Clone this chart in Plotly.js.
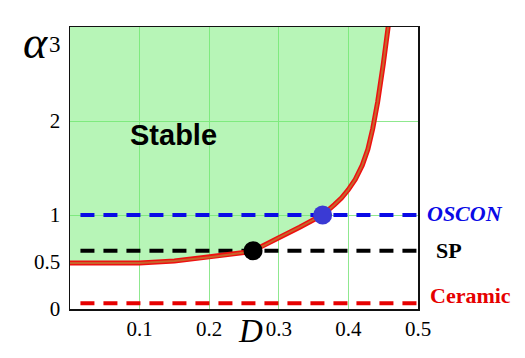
<!DOCTYPE html>
<html>
<head>
<meta charset="utf-8">
<script src="https://cdn.plot.ly/plotly-3.0.1.min.js"></script>
<style>html,body{margin:0;padding:0;background:#fff;}#chart{width:525px;height:358px;}</style>
</head>
<body>
<div id="chart"></div>
<script>
// Stability boundary
const boundaryD     = [0, 0.05, 0.1, 0.15, 0.2, 0.25, 0.263, 0.28, 0.3, 0.33, 0.35, 0.363, 0.38, 0.39, 0.4, 0.41, 0.42, 0.428, 0.435, 0.442, 0.45, 0.458];
const boundaryAlpha = [0.49, 0.49, 0.49, 0.51, 0.55, 0.6, 0.62, 0.68, 0.76, 0.87, 0.95, 1.0, 1.11, 1.18, 1.27, 1.38, 1.53, 1.7, 1.92, 2.2, 2.6, 3.05];

// Capacitor levels
const levelNames  = ['OSCON', 'SP', 'Ceramic'];
const levelAlpha  = [1.0, 0.62, 0.06];
const levelStartD = 0.015;
const levelEndD   = 0.5;

// Operating points on the boundary
const pointNames = ['OSCON', 'SP'];
const pointD     = [0.363, 0.263];
const pointAlpha = [1.0, 0.62];

// Axis ticks
const xTicks = [0.1, 0.2, 0.3, 0.4, 0.5];
const xTickText = ['0.1', '0.2', '0.3', '0.4', '0.5'];
const yTicks = [0, 0.5, 1, 2];
const yTickText = ['0', '0.5', '1', '2'];
const yGrid = [1, 2];

const levelColors = ['#0a0ae6', '#000000', '#e60000'];
const pointColors = ['#3a3ad4', '#000000'];

const traces = [];
traces.push({
  x: boundaryD, y: boundaryAlpha, type: 'scatter', mode: 'lines',
  fill: 'tozerox', fillcolor: 'rgba(112,236,112,0.5)', line: {width: 0, color: 'rgba(0,0,0,0)'},
  hoverinfo: 'skip', showlegend: false
});
levelNames.forEach((n, i) => {
  traces.push({
    x: [levelStartD, levelEndD], y: [levelAlpha[i], levelAlpha[i]], type: 'scatter', mode: 'lines',
    line: {color: levelColors[i], width: 4, dash: '14px,9px'}, showlegend: false, name: n
  });
});
traces.push({
  x: boundaryD, y: boundaryAlpha, type: 'scatter', mode: 'lines',
  line: {color: '#ee1010', width: 5}, showlegend: false
});
traces.push({
  x: boundaryD, y: boundaryAlpha, type: 'scatter', mode: 'lines',
  line: {color: '#c8642a', width: 2}, showlegend: false
});
traces.push({
  x: pointD, y: pointAlpha, type: 'scatter', mode: 'markers',
  marker: {size: 19, color: pointColors}, cliponaxis: false, showlegend: false
});
// invisible trace to activate grid axis
traces.push({x: [0], y: [0], yaxis: 'y2', mode: 'markers', marker: {opacity: 0}, hoverinfo: 'skip', showlegend: false});

const serif = '"Liberation Serif", "Times New Roman", serif';
const pw = 525 - 70 - 107, ph = 358 - 27 - 49;
function px(xp) { return (xp - 70) / pw; }
function py(yp) { return (358 - 49 - yp) / ph; }
function ann(text, xp, yp, font) {
  return {text: text, x: px(xp), y: py(yp), xref: 'paper', yref: 'paper', xanchor: 'center', yanchor: 'middle',
          showarrow: false, font: font};
}
const layout = {
  width: 525, height: 358,
  margin: {l: 70, r: 107, t: 27, b: 49},
  paper_bgcolor: '#ffffff', plot_bgcolor: '#ffffff',
  xaxis: {
    range: [0, 0.5], tickvals: xTicks, ticktext: xTickText, showgrid: true,
    gridcolor: '#8fe88f', gridwidth: 1, zeroline: false,
    showline: true, mirror: true, linecolor: '#111', linewidth: 1.5,
    ticks: '', tickfont: {family: serif, size: 21, color: '#000'}
  },
  yaxis: {
    range: [0, 3], tickvals: yTicks, ticktext: yTickText, showgrid: false, zeroline: false,
    showline: true, mirror: true, linecolor: '#111', linewidth: 1.5,
    ticks: '', ticklabelstandoff: 4, tickfont: {family: serif, size: 21, color: '#000'}
  },
  yaxis2: {
    range: [0, 3], overlaying: 'y', tickvals: yGrid, showticklabels: false,
    showgrid: true, gridcolor: '#8fe88f', gridwidth: 1, zeroline: false, showline: false
  },
  annotations: [
    ann('3', 55, 45, {family: serif, size: 23, color: '#000'}),
    ann('<i>α</i>', 35, 43, {family: serif, size: 46, color: '#000'}),
    ann('<i>D</i>', 250, 331, {family: serif, size: 33, color: '#000'}),
    ann('<b>Stable</b>', 173, 135, {family: '"Liberation Sans", Arial, sans-serif', size: 29, color: '#000'}),
    ann('<b><i>OSCON</i></b>', 465, 213, {family: serif, size: 22, color: '#0a0ae6'}),
    ann('<b>SP</b>', 449, 250, {family: serif, size: 22, color: '#000'}),
    ann('<b>Ceramic</b>', 470, 295, {family: serif, size: 22, color: '#e60000'})
  ]
};
Plotly.newPlot('chart', traces, layout, {displayModeBar: false, staticPlot: true});
</script>
</body>
</html>
